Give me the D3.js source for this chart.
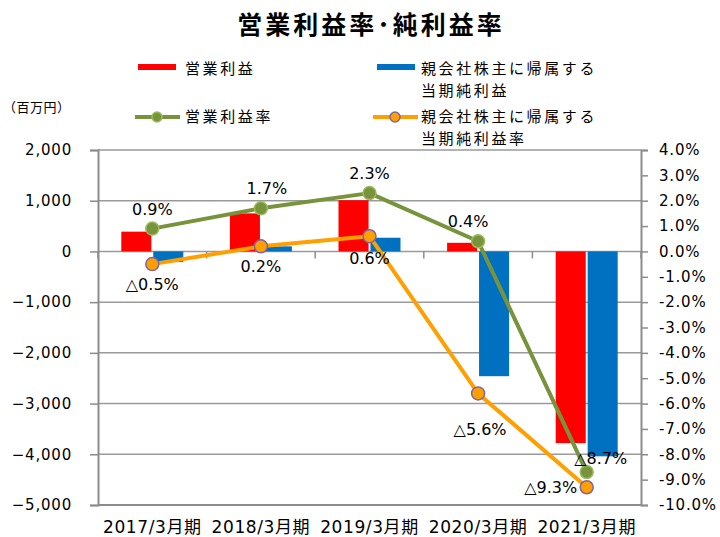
<!DOCTYPE html>
<html>
<head>
<meta charset="utf-8">
<script src="https://cdn.jsdelivr.net/npm/d3@7"></script>
<style>
  body { margin: 0; background: #fff; }
  svg { font-family: "DejaVu Sans", "Noto Sans CJK JP", sans-serif; }
</style>
</head>
<body>
<div id="chart"></div>
<script>
// Data
const categories = ['2017/3月期', '2018/3月期', '2019/3月期', '2020/3月期', '2021/3月期'];
const operatingProfit = [390, 750, 1010, 170, -3780];
const netProfit = [-210, 100, 270, -2460, -4040];
const operatingMargin = [0.9, 1.7, 2.3, 0.4, -8.7];
const netMargin = [-0.5, 0.2, 0.6, -5.6, -9.3];
const leftTicks = [2000, 1000, 0, -1000, -2000, -3000, -4000, -5000];
const rightTicks = d3.range(4, -10.5, -1);

const width = 720, height = 537;
const plot = { left: 98, right: 641, top: 150, bottom: 505 };
const cjk = '"Noto Sans CJK JP", sans-serif';

const svg = d3.select('#chart').append('svg')
    .attr('width', width)
    .attr('height', height);

// Scales
const x = d3.scaleBand()
    .domain(categories)
    .range([plot.left, plot.right])
    .padding(0);

const yLeft = d3.scaleLinear()
    .domain([-5000, 2000])
    .range([plot.bottom, plot.top]);

const yRight = d3.scaleLinear()
    .domain([-10, 4])
    .range([plot.bottom, plot.top]);

const fmtPct = v => (v < 0 ? '\u25B3' + Math.abs(v).toFixed(1) : v.toFixed(1)) + '%';
const cx = c => x(c) + x.bandwidth() / 2;

// Title
svg.append('text')
    .attr('x', 371).attr('y', 34)
    .attr('text-anchor', 'middle')
    .attr('font-family', cjk)
    .attr('font-size', 25)
    .attr('letter-spacing', 3)
    .attr('font-weight', 'bold')
    .text('営業利益率･純利益率');

// Legend
const legend = svg.append('g')
    .attr('font-family', cjk)
    .attr('font-size', 15)
    .attr('letter-spacing', 2.6)
    .attr('fill', '#000');

function legendText(xPos, yPos, lines) {
    const t = legend.append('text').attr('x', xPos).attr('y', yPos);
    lines.forEach((line, i) => {
        t.append('tspan')
            .attr('x', xPos)
            .attr('dy', i === 0 ? 0 : 22)
            .text(line);
    });
}

legend.append('rect').attr('x', 138).attr('y', 64).attr('width', 38).attr('height', 6).attr('fill', '#FF0000');
legendText(185, 74, ['営業利益']);
legend.append('rect').attr('x', 377).attr('y', 64).attr('width', 38).attr('height', 6).attr('fill', '#0070C0');
legendText(421, 74, ['親会社株主に帰属する', '当期純利益']);

legend.append('line').attr('x1', 135).attr('x2', 180).attr('y1', 117).attr('y2', 117)
    .attr('stroke', '#77933C').attr('stroke-width', 4);
legend.append('circle').attr('cx', 157).attr('cy', 117).attr('r', 5)
    .attr('fill', '#77933C').attr('stroke', '#9BBB59').attr('stroke-width', 1.5);
legendText(185, 122, ['営業利益率']);
legend.append('line').attr('x1', 373).attr('x2', 418).attr('y1', 117).attr('y2', 117)
    .attr('stroke', '#FFA000').attr('stroke-width', 4);
legend.append('circle').attr('cx', 395).attr('cy', 117).attr('r', 5)
    .attr('fill', '#FFA000').attr('stroke', '#8064A2').attr('stroke-width', 1.5);
legendText(421, 122, ['親会社株主に帰属する', '当期純利益率']);

// Unit
svg.append('text')
    .attr('x', 3).attr('y', 112)
    .attr('font-family', cjk)
    .attr('font-size', 13)
    .attr('letter-spacing', 0.5)
    .text('（百万円）');

// Gridlines
svg.append('g')
    .selectAll('line')
    .data(leftTicks)
    .join('line')
    .attr('x1', plot.left).attr('x2', plot.right)
    .attr('y1', d => yLeft(d)).attr('y2', d => yLeft(d))
    .attr('stroke', '#9a9a9a')
    .attr('stroke-width', 1.5);

// Left axis
const leftAxis = svg.append('g')
    .attr('transform', `translate(${plot.left},0)`)
    .call(d3.axisLeft(yLeft).tickValues(leftTicks).tickSize(8).tickPadding(18)
        .tickFormat(d3.format(',')));
leftAxis.select('.domain').attr('stroke', '#8c8c8c').attr('stroke-width', 2);
leftAxis.selectAll('.tick line').attr('stroke', '#8c8c8c').attr('stroke-width', 1.5);
leftAxis.selectAll('.tick text').attr('font-size', 15).attr('fill', '#000')
    .attr('letter-spacing', 0.8)
    .attr('font-family', '"DejaVu Sans", sans-serif');

// Right axis
const rightAxis = svg.append('g')
    .attr('transform', `translate(${plot.right},0)`)
    .call(d3.axisRight(yRight).tickValues(rightTicks).tickSize(7).tickPadding(11)
        .tickFormat(d => d.toFixed(1) + '%'));
rightAxis.select('.domain').attr('stroke', '#8c8c8c').attr('stroke-width', 2);
rightAxis.selectAll('.tick line').attr('stroke', '#8c8c8c').attr('stroke-width', 1.5);
rightAxis.selectAll('.tick text').attr('font-size', 15).attr('fill', '#000')
    .attr('letter-spacing', 0.8)
    .attr('font-family', '"DejaVu Sans", sans-serif');

// Bars
const inner = d3.scaleBand()
    .domain(['op', 'net'])
    .range([-31, 31])
    .paddingInner(0.06);

const barData = categories.flatMap((c, i) => [
    { c, key: 'op', v: operatingProfit[i], color: '#FF0000' },
    { c, key: 'net', v: netProfit[i], color: '#0070C0' }
]);

svg.append('g')
    .selectAll('rect')
    .data(barData)
    .join('rect')
    .attr('x', d => cx(d.c) + inner(d.key))
    .attr('width', inner.bandwidth())
    .attr('y', d => yLeft(Math.max(0, d.v)))
    .attr('height', d => Math.abs(yLeft(d.v) - yLeft(0)))
    .attr('fill', d => d.color);

// Bottom axis line and category ticks at zero
svg.append('line')
    .attr('x1', plot.left).attr('x2', plot.right)
    .attr('y1', plot.bottom).attr('y2', plot.bottom)
    .attr('stroke', '#8c8c8c').attr('stroke-width', 2);

const catTicks = d3.range(categories.length + 1).map(i => plot.left + i * x.bandwidth());
svg.append('g')
    .selectAll('line')
    .data(catTicks)
    .join('line')
    .attr('x1', d => d).attr('x2', d => d)
    .attr('y1', yLeft(0)).attr('y2', yLeft(0) + 7)
    .attr('stroke', '#8c8c8c').attr('stroke-width', 1.5);

// Category labels
svg.append('g')
    .selectAll('text')
    .data(categories)
    .join('text')
    .attr('x', d => cx(d))
    .attr('y', 533)
    .attr('text-anchor', 'middle')
    .attr('font-size', 17)
    .attr('letter-spacing', 0.6)
    .attr('fill', '#000')
    .text(d => d);

// Lines
const lineGen = d3.line()
    .x(d => cx(d.c))
    .y(d => yRight(d.v));

const series = [
    { values: operatingMargin, stroke: '#77933C', fill: '#77933C', outline: '#9BBB59',
      offsets: [[0, -14], [6, -14], [0, -14], [-10, -14], [14, -8]] },
    { values: netMargin, stroke: '#FFA000', fill: '#FFA000', outline: '#8064A2',
      offsets: [[0, 26], [0, 26], [0, 28], [2, 42], [-36, 6]] }
];

series.forEach(s => {
    const pts = categories.map((c, i) => ({ c, v: s.values[i] }));
    svg.append('path')
        .datum(pts)
        .attr('d', lineGen)
        .attr('fill', 'none')
        .attr('stroke', s.stroke)
        .attr('stroke-width', 4)
        .attr('stroke-linejoin', 'round');
    svg.append('g')
        .selectAll('circle')
        .data(pts)
        .join('circle')
        .attr('cx', d => cx(d.c))
        .attr('cy', d => yRight(d.v))
        .attr('r', 6.5)
        .attr('fill', s.fill)
        .attr('stroke', s.outline)
        .attr('stroke-width', 1.5);
});

// Data labels
series.forEach(s => {
    svg.append('g')
        .selectAll('text')
        .data(categories)
        .join('text')
        .attr('x', (c, i) => cx(c) + s.offsets[i][0])
        .attr('y', (c, i) => yRight(s.values[i]) + s.offsets[i][1])
        .attr('text-anchor', 'middle')
        .attr('font-size', 16)
        .attr('fill', '#000')
        .text((c, i) => fmtPct(s.values[i]));
});
</script>
</body>
</html>
